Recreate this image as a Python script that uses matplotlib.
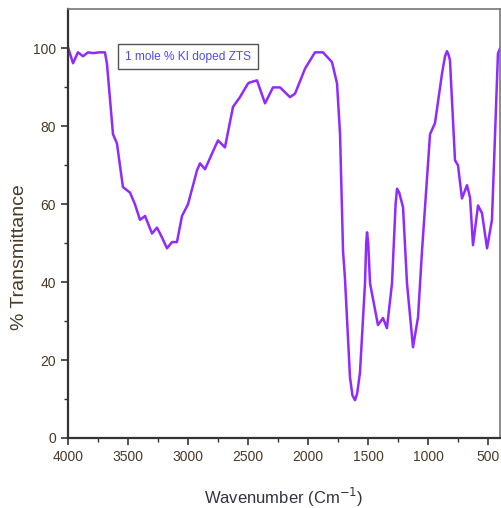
# FTIR spectrum of 1 mole % KI doped ZTS
# Line Chart

import matplotlib.pyplot as plt

# Wavenumber (cm^-1) and % transmittance
wavenumber = [4000, 3958, 3917, 3875, 3833, 3790, 3740, 3692, 3675, 3625, 3592,
              3542, 3483, 3442, 3400, 3358, 3300, 3258, 3217, 3175, 3133, 3092,
              3050, 3000, 2925, 2900, 2858, 2800, 2750, 2692, 2625, 2567, 2500,
              2483, 2425, 2358, 2292, 2233, 2150, 2108, 2025, 1942, 1875, 1800,
              1758, 1733, 1708, 1692, 1650, 1630, 1608, 1590, 1567, 1525, 1515,
              1508, 1498, 1483, 1417, 1375, 1342, 1300, 1270, 1258, 1240, 1208,
              1175, 1125, 1083, 1050, 983, 942, 883, 858, 842, 830, 817, 775, 750,
              717, 675, 650, 625, 583, 550, 508, 467, 417, 400]
transmittance = [100.3, 96.2, 99.0, 98.0, 99.0, 98.8, 99.0, 99.0, 96.0, 78.0, 75.6,
                 64.4, 63.0, 60.0, 56.0, 57.0, 52.5, 54.0, 51.5, 48.7, 50.3, 50.3,
                 57.0, 60.0, 68.7, 70.5, 69.0, 73.0, 76.4, 74.6, 85.0, 87.5, 91.0,
                 91.3, 91.8, 85.9, 90.0, 90.0, 87.5, 88.4, 94.8, 99.0, 99.0, 96.5,
                 91.0, 78.0, 48.0, 41.0, 15.6, 11.0, 9.7, 11.5, 16.7, 39.7, 50.0,
                 52.8, 50.0, 39.7, 29.0, 30.8, 28.2, 39.7, 60.0, 64.0, 63.0, 59.2,
                 39.7, 23.3, 31.0, 48.0, 78.0, 80.8, 93.6, 98.0, 99.3, 98.5, 97.0,
                 71.3, 70.0, 61.5, 64.9, 61.8, 49.5, 59.7, 57.7, 48.7, 56.0, 98.7,
                 100.0]

label_font = ["Liberation Sans Narrow", "Liberation Sans", "DejaVu Sans"]
text_color = "#4a3a2a"

fig = plt.figure(figsize=(5.01, 5.08), dpi=100)
ax = fig.add_axes([0.1357, 0.1378, 0.8623, 0.8435])

ax.plot(wavenumber, transmittance, color="#8f2bff", linewidth=1.8)

# Axis ranges (wavenumber decreasing to the right)
ax.set_xlim(4000, 400)
ax.set_ylim(0, 110)
ax.set_xticks([4000, 3500, 3000, 2500, 2000, 1500, 1000, 500])
ax.set_xticks([3750, 3250, 2750, 2250, 1750, 1250, 750], minor=True)
ax.set_yticks([0, 20, 40, 60, 80, 100])
ax.set_yticks([10, 30, 50, 70, 90], minor=True)

# Spines: dark left/bottom, grey top/right
for side in ["left", "bottom"]:
    ax.spines[side].set_linewidth(1.6)
    ax.spines[side].set_color("#333333")
for side in ["top", "right"]:
    ax.spines[side].set_linewidth(1.2)
    ax.spines[side].set_color("#777777")

ax.tick_params(which="major", direction="out", length=5, width=1.2, color="#333333",
               labelsize=10, labelcolor=text_color)
ax.tick_params(which="minor", direction="out", length=3, width=1.0, color="#333333")
for lbl in ax.get_xticklabels() + ax.get_yticklabels():
    lbl.set_family(label_font)

# Axis titles placed as in the reference
fig.text(284 / 501, 1 - 497 / 508, "Wavenumber (Cm$^{-1}$)", fontsize=12,
         color="#333344", family=label_font, ha="center", va="center")
fig.text(20 / 501, 1 - 257 / 508, "% Transmittance", fontsize=14, rotation=90,
         color=text_color, family=label_font, ha="center", va="center")

# Legend-like label box
ax.text(0.132, 0.89, "1 mole % KI doped ZTS", transform=ax.transAxes,
        fontsize=8.6, color="#5048ff", family=label_font, va="center",
        bbox=dict(boxstyle="square,pad=0.55", facecolor="white", edgecolor="#555555",
                  linewidth=1.0))

plt.savefig("out.png", dpi=100)
